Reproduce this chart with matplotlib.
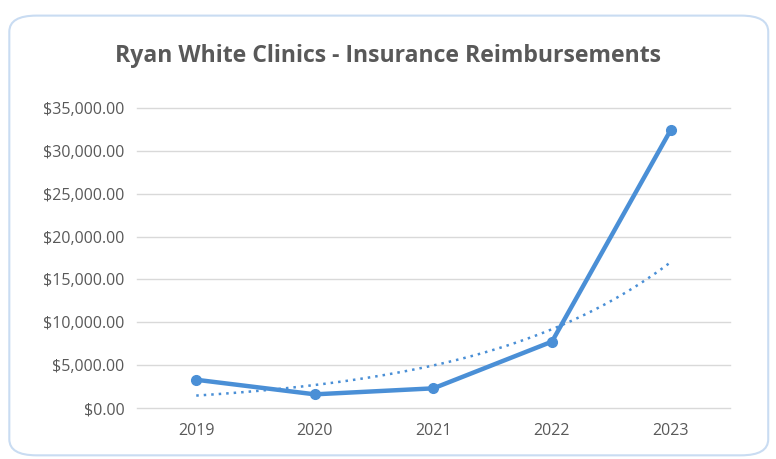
import numpy as np
import matplotlib.pyplot as plt
from matplotlib.patches import FancyBboxPatch
from matplotlib.ticker import FuncFormatter

years = ["2019", "2020", "2021", "2022", "2023"]
reimbursements = [3300, 1600, 2300, 7750, 32400]

blue = "#4a8fd6"
gray = "#595959"

plt.rcParams["font.family"] = ["Open Sans", "DejaVu Sans"]

fig = plt.figure(figsize=(7.76, 4.59), dpi=100)
fig.patch.set_facecolor("white")

# rounded chart frame
frame = FancyBboxPatch((0.012, 0.008), 0.978, 0.958, boxstyle="round,pad=0,rounding_size=0.035",
                       transform=fig.transFigure, facecolor="white", edgecolor="#c9dcf2",
                       linewidth=1.5, zorder=-1)
fig.add_artist(frame)

ax = fig.add_axes([0.1765, 0.111, 0.764, 0.6536])
ax.set_facecolor("none")
ax.set_zorder(1)

x = np.arange(len(years))
ax.plot(x, reimbursements, color=blue, linewidth=3.2, marker="o", markersize=7, zorder=3)

# exponential trendline (least squares on log values)
b, a = np.polyfit(x, np.log(reimbursements), 1)
xs = np.linspace(0, len(years) - 1, 100)
ax.plot(xs, np.exp(a + b * xs), color=blue, linewidth=1.8, linestyle=(0, (1, 2)), zorder=2)

ax.set_xlim(-0.5, len(years) - 0.5)
ax.set_ylim(0, 35000)
ax.set_yticks(np.arange(0, 35001, 5000))
ax.yaxis.set_major_formatter(FuncFormatter(lambda v, p: f"${v:,.2f}"))
ax.set_xticks(x)
ax.set_xticklabels(years)

ax.grid(axis="y", color="#d9d9d9", linewidth=1)
for gl in ax.get_ygridlines():
    gl.set_clip_on(False)
ax.set_axisbelow(True)
for s in ax.spines.values():
    s.set_visible(False)
ax.tick_params(length=0, labelcolor=gray, labelsize=11.5)
ax.tick_params(axis="y", pad=9)
ax.tick_params(axis="x", pad=11)

fig.text(0.5, 0.877, "Ryan White Clinics - Insurance Reimbursements", ha="center", va="center",
         fontsize=16.6, fontweight="bold", color=gray)

fig.savefig("out.png", dpi=100)
